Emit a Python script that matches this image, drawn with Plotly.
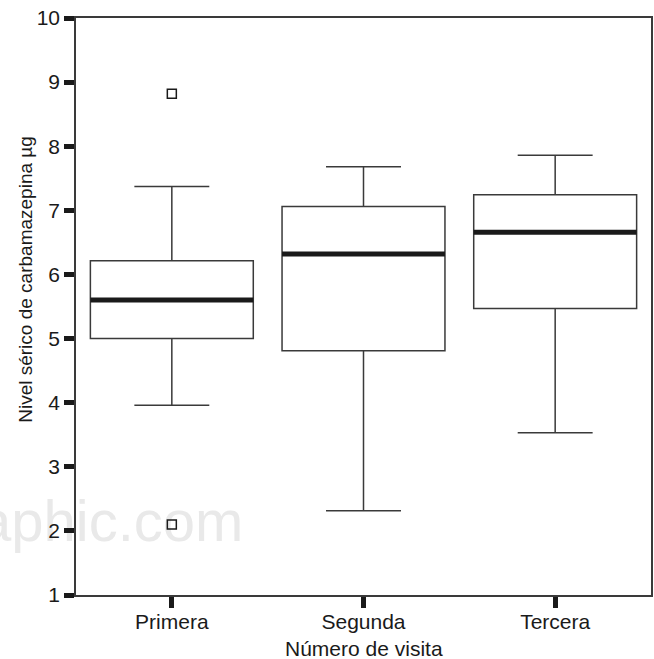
import plotly.graph_objects as go

categories = ["Primera", "Segunda", "Tercera"]
q1 = [5.00, 4.81, 5.47]
median = [5.60, 6.32, 6.66]
q3 = [6.215, 7.06, 7.245]
lower_whisker = [3.96, 2.315, 3.53]
upper_whisker = [7.37, 7.68, 7.86]
outlier_cat = [0, 0]
outlier_val = [8.82, 2.10]

BOX_W = 0.85
FONT = "Liberation Sans, Arial, Helvetica, sans-serif"
INK = "#1a1a1a"

fig = go.Figure()
for i, c in enumerate(categories):
    fig.add_trace(go.Box(
        x=[i], q1=[q1[i]], median=[median[i]], q3=[q3[i]],
        lowerfence=[lower_whisker[i]], upperfence=[upper_whisker[i]],
        width=BOX_W, whiskerwidth=0.46, fillcolor="white",
        line=dict(color="#3a3a3a", width=1.5), boxpoints=False,
        showlegend=False, name=c, hoverinfo="skip"))

# thick median lines
for i in range(len(categories)):
    fig.add_trace(go.Scatter(
        x=[i - BOX_W / 2, i + BOX_W / 2], y=[median[i], median[i]],
        mode="lines", line=dict(color=INK, width=5),
        showlegend=False, hoverinfo="skip"))

fig.add_trace(go.Scatter(
    x=outlier_cat, y=outlier_val, mode="markers",
    marker=dict(symbol="square-open", size=9, color=INK, line=dict(width=1.5)),
    showlegend=False, hoverinfo="skip"))

# faint watermark, drawn beneath everything
fig.add_shape(type="rect", xref="paper", yref="paper", layer="below",
              x0=-0.14, x1=0.2963, y0=0.085, y1=0.19,
              line=dict(width=0), fillcolor="rgba(0,0,0,0)",
              label=dict(text="raphic.com", textposition="middle right", padding=0,
                         font=dict(family="Liberation Sans, Arial",
                                   size=58, color="#e9e9e9")))

# axis titles
fig.add_annotation(text="Nivel sérico de carbamazepina µg", xref="paper", yref="paper",
                   x=-0.087, y=0.548, xanchor="center", yanchor="middle", textangle=-90,
                   showarrow=False, font=dict(family=FONT, size=19, color=INK))
fig.add_annotation(text="Número de visita", xref="paper", yref="paper",
                   x=0.5, y=-0.093, xanchor="center", yanchor="middle",
                   showarrow=False, font=dict(family=FONT, size=21, color=INK))

fig.update_layout(
    width=654, height=659,
    margin=dict(l=76, r=1, t=18, b=64),
    paper_bgcolor="white", plot_bgcolor="white",
    font=dict(family=FONT, size=21, color=INK),
    xaxis=dict(range=[-0.5, 2.5], tickmode="array", tickvals=[0, 1, 2], ticktext=categories,
               showline=True, mirror=True, linecolor="#3a3a3a", linewidth=1.5,
               ticks="outside", ticklen=11, tickwidth=4.5, tickcolor=INK,
               ticklabelstandoff=-4,
               showgrid=False, zeroline=False),
    yaxis=dict(range=[1, 10], tickmode="array", tickvals=list(range(1, 11)),
               showline=True, mirror=True, linecolor="#3a3a3a", linewidth=1.5,
               ticks="outside", ticklen=10, tickwidth=4.5, tickcolor=INK,
               ticklabeloverflow="allow",
               showgrid=False, zeroline=False),
)

fig.write_html("out.html", config={"displayModeBar": False},
               post_script="document.body.style.margin='0';")
